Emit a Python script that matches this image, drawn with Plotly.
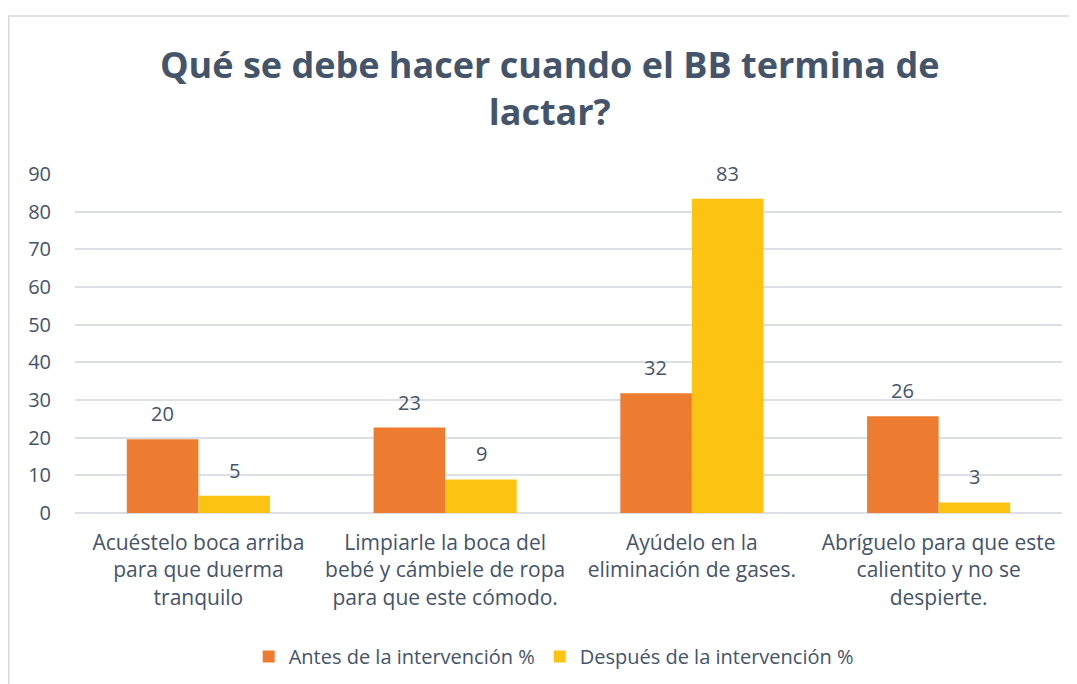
import plotly.graph_objects as go

categories = [
    "Acuéstelo boca arriba<br>para que duerma<br>tranquilo",
    "Limpiarle la boca del<br>bebé y cámbiele de ropa<br>para que este cómodo.",
    "Ayúdelo en la<br>eliminación de gases.",
    "Abríguelo para que este<br>calientito y no se<br>despierte.",
]
antes = [19.6, 22.7, 31.8, 25.7]
despues = [4.6, 8.9, 83.4, 2.8]
series_names = ["Antes de la intervención %", "Después de la intervención %"]
colors = ["#EE7C30", "#FCC312"]
y_ticks = [0, 10, 20, 30, 40, 50, 60, 70, 80, 90]

FONT = "Open Sans, Calibri, sans-serif"
TXT = "#44546A"
FS = 20

fig = go.Figure()
for name, vals, col in zip(series_names, [antes, despues], colors):
    fig.add_trace(go.Bar(
        name=name, x=categories, y=vals,
        marker=dict(color=col, line=dict(width=0)),
    ))

# data labels above bars (offset to each bar of the group)
for vals, shift in zip([antes, despues], [-36, 36]):
    for c, v in zip(categories, vals):
        fig.add_annotation(x=c, y=v, text=f"{v:.0f}", showarrow=False,
                           xshift=shift, yshift=10, yanchor="bottom",
                           font=dict(size=FS, color=TXT, family=FONT))

fig.update_layout(
    width=1077, height=684,
    barmode="group", bargap=0.42, bargroupgap=0,
    paper_bgcolor="white", plot_bgcolor="white",
    margin=dict(l=67, r=23, t=166, b=179, autoexpand=False),
    font=dict(family=FONT, color=TXT, size=FS),
    title=dict(
        text="<b>Qué se debe hacer cuando el BB termina de<br>lactar?</b>",
        x=0.503, xanchor="center", y=0.897, yanchor="top",
        font=dict(size=36, color=TXT, family=FONT),
    ),
    xaxis=dict(showline=False, ticks="", automargin=False,
               tickfont=dict(size=21, color=TXT), ticklabelstandoff=15),
    yaxis=dict(range=[0, 90], tickvals=y_ticks, showgrid=True, automargin=False,
               gridcolor="#DCE0E6", gridwidth=1.5, zeroline=True,
               zerolinecolor="#DCE0E6", zerolinewidth=1.5,
               tickfont=dict(size=FS, color=TXT), ticklabelstandoff=23),
    legend=dict(orientation="h", x=0.485, xanchor="center", y=-0.366, yanchor="top",
                font=dict(size=FS, color=TXT), itemwidth=30, traceorder="normal"),
    showlegend=True,
)
fig.add_shape(type="rect", xref="paper", yref="paper",
              x0=-0.0671, x1=1.1, y0=-0.6, y1=1.466,
              line=dict(color="#D9D9D9", width=1.5), fillcolor="rgba(0,0,0,0)", layer="below")

fig.write_html("out.html")
